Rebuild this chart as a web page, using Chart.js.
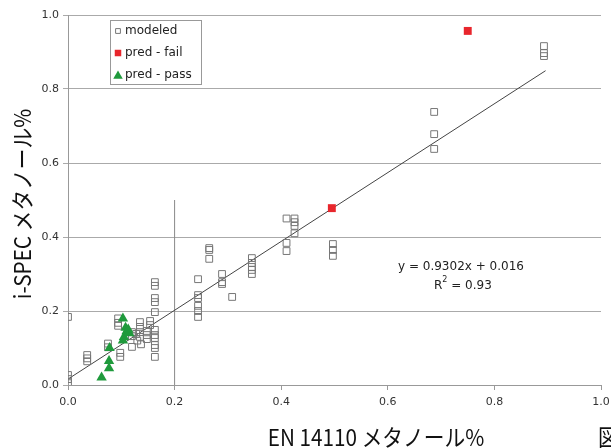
<!DOCTYPE html>
<html lang="ja">
<head>
<meta charset="UTF-8">
<title>i-SPEC vs EN 14110</title>
<script src="https://cdn.jsdelivr.net/npm/chart.js"></script>
<style>
  body { margin: 0; background: #fff; }
  #wrap { width: 611px; height: 448px; }
</style>
</head>
<body>
<div id="wrap"><canvas id="myChart" width="611" height="448"></canvas></div>
<script>
// modeled points (EN 14110 %, i-SPEC %)
const modeledX = [
  0, 0, 0, 0,
  0.036, 0.036, 0.036,
  0.075, 0.075,
  0.094, 0.094, 0.094,
  0.098, 0.098,
  0.12, 0.12, 0.12, 0.128, 0.13,
  0.135, 0.135, 0.135, 0.135, 0.137,
  0.148, 0.148, 0.148,
  0.154, 0.154,
  0.163, 0.163, 0.163, 0.163, 0.163, 0.163, 0.163, 0.163, 0.163, 0.163, 0.163,
  0.244, 0.244, 0.244, 0.244, 0.244, 0.244,
  0.265, 0.265, 0.265,
  0.289, 0.289, 0.289,
  0.308,
  0.345, 0.345, 0.345, 0.345, 0.345,
  0.41, 0.41, 0.41,
  0.425, 0.425, 0.425, 0.425,
  0.497, 0.497, 0.497,
  0.687, 0.687, 0.687,
  0.893, 0.893, 0.893
];
const modeledY = [
  0.184, 0.027, 0.016, 0.005,
  0.081, 0.072, 0.064,
  0.112, 0.102,
  0.18, 0.168, 0.16,
  0.087, 0.076,
  0.143, 0.132, 0.103, 0.138, 0.12,
  0.17, 0.157, 0.143, 0.13, 0.11,
  0.146, 0.135, 0.124,
  0.173, 0.162,
  0.278, 0.268, 0.235, 0.224, 0.197, 0.149, 0.135, 0.127, 0.108, 0.1, 0.076,
  0.286, 0.243, 0.235, 0.214, 0.2, 0.184,
  0.37, 0.365, 0.341,
  0.3, 0.278, 0.273,
  0.238,
  0.343, 0.33, 0.319, 0.311, 0.3,
  0.45, 0.384, 0.362,
  0.45, 0.44, 0.43, 0.41,
  0.381, 0.365, 0.349,
  0.738, 0.678, 0.638,
  0.916, 0.897, 0.889
];
const failX = [0.495, 0.75];
const failY = [0.478, 0.957];
const passX = [0.063, 0.077, 0.077, 0.078, 0.103, 0.108, 0.11, 0.105, 0.103, 0.115, 0.113];
const passY = [0.02, 0.045, 0.065, 0.1, 0.18, 0.155, 0.145, 0.13, 0.12, 0.14, 0.15];

// trend line y = 0.9302x + 0.016
const trendSlope = 0.9302;
const trendIntercept = 0.016;
const trendX = [0, 0.896];
// vertical reference line at 0.2
const limitX = [0.2, 0.2];
const limitY = [0, 0.5];

const xTicks = [0, 0.2, 0.4, 0.6, 0.8, 1.0];
const yTicks = [0, 0.2, 0.4, 0.6, 0.8, 1.0];

const legendLabels = ['modeled', 'pred - fail', 'pred - pass'];
const xTitle = 'EN 14110 メタノール%';
const yTitle = 'i-SPEC メタノール%';
const eqText = 'y = 0.9302x + 0.016';
const r2Value = '0.93';

function pts(xs, ys) {
  return xs.map((x, i) => ({ x: x, y: ys[i] }));
}

const tickFont = { family: 'DejaVu Sans', size: 11 };
const smallFont = '12px "DejaVu Sans"';
const jpFont = '23px "Noto Sans CJK JP"';

const modeledStyle = { pointStyle: 'rect', radius: 4.8, borderColor: '#777', backgroundColor: 'rgba(0,0,0,0)', borderWidth: 1 };
const failStyle = { pointStyle: 'rect', radius: 5.6, borderColor: '#e8262c', backgroundColor: '#e8262c', borderWidth: 0 };
const passStyle = { pointStyle: 'triangle', radius: 6, borderColor: '#1f9a3c', backgroundColor: '#1f9a3c', borderWidth: 0 };

// condensed text like the original gothic font
function narrowText(ctx, text, x, y, sx) {
  ctx.save();
  ctx.translate(x, y);
  ctx.scale(sx, 1);
  ctx.fillText(text, 0, 0);
  ctx.restore();
}

const extras = {
  id: 'extras',
  afterDraw(chart) {
    const ctx = chart.ctx;
    ctx.save();

    // legend box
    ctx.fillStyle = '#fff';
    ctx.fillRect(110.5, 20.5, 91, 64);
    ctx.strokeStyle = '#999';
    ctx.lineWidth = 1;
    ctx.strokeRect(110.5, 20.5, 91, 64);
    const styles = [
      { pointStyle: 'rect', radius: 3.4, borderColor: '#777', backgroundColor: '#fff', borderWidth: 1 },
      { pointStyle: 'rect', radius: 4.6, borderColor: '#e8262c', backgroundColor: '#e8262c', borderWidth: 0 },
      { pointStyle: 'triangle', radius: 5.5, borderColor: '#1f9a3c', backgroundColor: '#1f9a3c', borderWidth: 0 }
    ];
    const rowY = [31, 53, 75];
    ctx.font = smallFont;
    ctx.textBaseline = 'middle';
    ctx.textAlign = 'left';
    legendLabels.forEach((lab, i) => {
      ctx.fillStyle = styles[i].backgroundColor;
      ctx.strokeStyle = styles[i].borderColor;
      ctx.lineWidth = styles[i].borderWidth;
      Chart.helpers.drawPoint(ctx, styles[i], 118, rowY[i] + (i === 2 ? 1 : 0));
      ctx.fillStyle = '#222';
      ctx.fillText(lab, 125, rowY[i]);
    });

    // equation
    ctx.fillStyle = '#222';
    ctx.font = smallFont;
    ctx.textAlign = 'left';
    ctx.fillText(eqText, 398, 267);
    const rest = ' = ' + r2Value;
    const wR = ctx.measureText('R').width;
    const startX = 434;
    ctx.fillText('R', startX, 286);
    ctx.font = '8px "DejaVu Sans"';
    ctx.fillText('2', startX + wR, 280);
    const w2 = ctx.measureText('2').width;
    ctx.font = smallFont;
    ctx.fillText(rest, startX + wR + w2, 286);

    // axis titles
    ctx.fillStyle = '#111';
    ctx.font = jpFont;
    ctx.textAlign = 'center';
    narrowText(ctx, xTitle, 376, 437, 0.9);
    ctx.textAlign = 'left';
    narrowText(ctx, '図', 598, 437, 0.9);
    ctx.save();
    ctx.translate(22, 204);
    ctx.rotate(-Math.PI / 2);
    ctx.textAlign = 'center';
    narrowText(ctx, yTitle, 0, 0, 0.9);
    ctx.restore();

    ctx.restore();
  }
};

const ctx = document.getElementById('myChart');
new Chart(ctx, {
  type: 'scatter',
  data: {
    datasets: [
      Object.assign({ label: legendLabels[2], data: pts(passX, passY), order: 0 }, passStyle),
      Object.assign({ label: legendLabels[1], data: pts(failX, failY), order: 1 }, failStyle),
      Object.assign({ label: legendLabels[0], data: pts(modeledX, modeledY), order: 2 }, modeledStyle),
      {
        label: 'trend',
        type: 'line',
        data: trendX.map(x => ({ x: x, y: trendSlope * x + trendIntercept })),
        borderColor: '#444',
        borderWidth: 1,
        pointRadius: 0,
        fill: false,
        order: 3
      },
      {
        label: 'limit',
        type: 'line',
        data: pts(limitX, limitY),
        borderColor: '#888',
        borderWidth: 1,
        pointRadius: 0,
        fill: false,
        order: 4
      }
    ]
  },
  options: {
    responsive: false,
    animation: false,
    layout: { padding: { top: 15, right: 10, left: 0, bottom: 0 } },
    plugins: {
      legend: { display: false },
      tooltip: { enabled: false }
    },
    scales: {
      x: {
        type: 'linear',
        min: 0,
        max: 1,
        afterBuildTicks: s => { s.ticks = xTicks.map(v => ({ value: v })); },
        afterFit: s => { s.height = 63; s.paddingLeft = 0; s.paddingRight = 0; },
        ticks: {
          font: tickFont,
          color: '#333',
          padding: 6,
          callback: v => v.toFixed(1)
        },
        grid: { drawOnChartArea: false, tickLength: 5, color: '#999' },
        border: { color: '#999' }
      },
      y: {
        type: 'linear',
        min: 0,
        max: 1,
        afterBuildTicks: s => { s.ticks = yTicks.map(v => ({ value: v })); },
        afterFit: s => { s.width = 68; },
        ticks: {
          font: tickFont,
          color: '#333',
          padding: 4,
          callback: v => v.toFixed(1)
        },
        grid: { tickLength: 5, color: '#aaa' },
        border: { color: '#999' }
      }
    }
  },
  plugins: [extras]
});
</script>
</body>
</html>
